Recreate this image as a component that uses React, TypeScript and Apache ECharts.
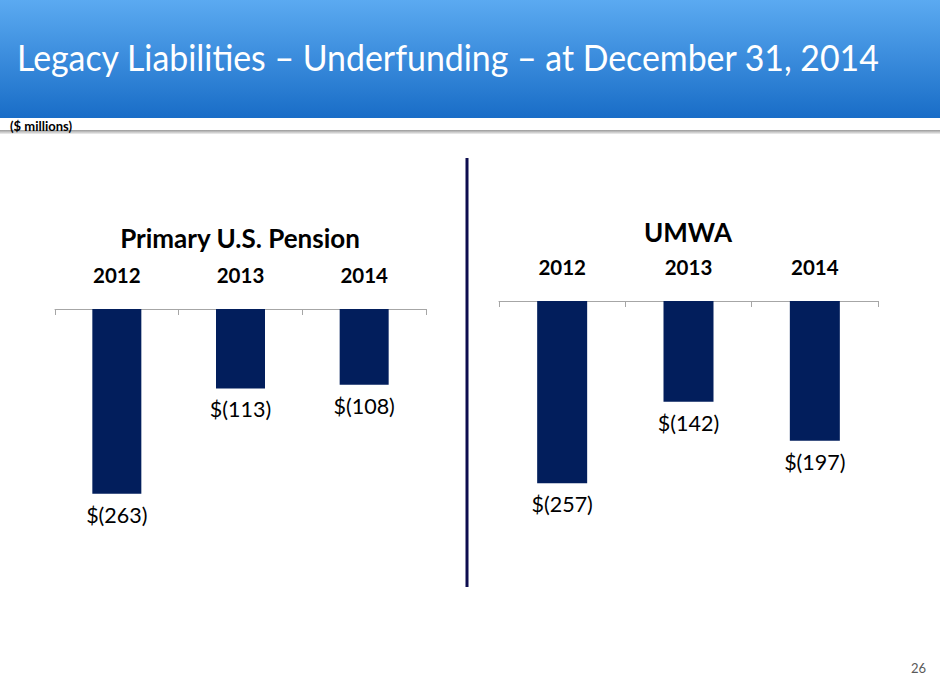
import React, { useEffect, useRef } from "react";
import * as echarts from "echarts";

const years = ["2012", "2013", "2014"];
const pensionValues = [-263, -113, -108];
const umwaValues = [-257, -142, -197];
const titleText = "Legacy Liabilities – Underfunding – at December 31, 2014";
const unitText = "($ millions)";
const pensionTitle = "Primary U.S. Pension";
const umwaTitle = "UMWA";
const pageNumber = "26";

const FONT = "Lato";
const BAR = "#021E5C";
const AXIS = "#A6A6A6";

const fmt = (p: any) => `$(${Math.abs(p.value)})`;

export default function App() {
  const ref = useRef<HTMLDivElement>(null);
  useEffect(() => {
    if (!ref.current) return;
    const chart = echarts.init(ref.current, undefined, { renderer: "svg" });
    const xAxisBase = (gridIndex: number) => ({
      type: "category" as const,
      gridIndex,
      data: years,
      position: "top" as const,
      axisLine: { show: true, lineStyle: { color: AXIS, width: 1 } },
      axisTick: { show: true, inside: true, length: 6, lineStyle: { color: AXIS } },
      axisLabel: {
        margin: 24,
        color: "#000",
        fontFamily: FONT,
        fontWeight: "bold",
        fontSize: 20.5,
      },
    });
    const yAxisBase = (gridIndex: number) => ({
      type: "value" as const,
      gridIndex,
      min: -400,
      max: 0,
      show: false,
      splitLine: { show: false },
    });
    const labelBase = {
      show: true,
      position: "bottom" as const,
      distance: 10,
      formatter: fmt,
      color: "#000",
      fontFamily: FONT,
      fontSize: 21.5,
    };
    chart.setOption({
      animation: false,
      textStyle: { fontFamily: FONT },
      grid: [
        { left: 55, width: 371, top: 309, height: 281 },
        { left: 499, width: 379, top: 301, height: 283.6 },
      ],
      xAxis: [xAxisBase(0), xAxisBase(1)],
      yAxis: [yAxisBase(0), yAxisBase(1)],
      series: [
        {
          type: "bar",
          xAxisIndex: 0,
          yAxisIndex: 0,
          data: pensionValues,
          barWidth: 49,
          itemStyle: { color: BAR },
          label: labelBase,
        },
        {
          type: "bar",
          xAxisIndex: 1,
          yAxisIndex: 1,
          data: umwaValues,
          barWidth: 50,
          itemStyle: { color: BAR },
          label: labelBase,
        },
      ],
      graphic: [
        {
          type: "rect",
          left: 0,
          top: 0,
          shape: { width: 940, height: 118 },
          style: {
            fill: new echarts.graphic.LinearGradient(0, 0, 0, 1, [
              { offset: 0, color: "#5BAAF1" },
              { offset: 1, color: "#196DC7" },
            ]),
          },
          silent: true,
        },
        {
          type: "rect",
          left: 0,
          top: 130,
          shape: { width: 940, height: 4 },
          style: {
            fill: new echarts.graphic.LinearGradient(0, 0, 0, 1, [
              { offset: 0, color: "#9A9A9A" },
              { offset: 1, color: "#F0F0F0" },
            ]),
          },
          silent: true,
        },
        {
          type: "text",
          x: 17,
          y: 57,
          scaleX: 0.915,
          style: {
            text: titleText,
            fill: "#FFFFFF",
            fontFamily: FONT,
            fontSize: 37,
            textVerticalAlign: "middle",
          },
        },
        {
          type: "text",
          x: 10,
          y: 126,
          style: {
            text: unitText,
            fill: "#000",
            fontFamily: FONT,
            fontWeight: "bold",
            fontSize: 13,
            textVerticalAlign: "middle",
          },
        },
        {
          type: "text",
          x: 240,
          y: 238,
          style: {
            text: pensionTitle,
            fill: "#000",
            fontFamily: FONT,
            fontWeight: "bold",
            fontSize: 26,
            textAlign: "center",
            textVerticalAlign: "middle",
          },
        },
        {
          type: "text",
          x: 688,
          y: 232,
          style: {
            text: umwaTitle,
            fill: "#000",
            fontFamily: FONT,
            fontWeight: "bold",
            fontSize: 26,
            textAlign: "center",
            textVerticalAlign: "middle",
          },
        },
        {
          type: "rect",
          left: 465.5,
          top: 158,
          shape: { width: 3, height: 429 },
          style: { fill: "#0D0D4F" },
          silent: true,
        },
        {
          type: "text",
          x: 926,
          y: 668,
          style: {
            text: pageNumber,
            fill: "#595959",
            fontFamily: FONT,
            fontSize: 13,
            textAlign: "right",
            textVerticalAlign: "middle",
          },
        },
      ],
    });
    return () => chart.dispose();
  }, []);
  return (
    <div
      ref={ref}
      style={{ position: "fixed", left: 0, top: 0, width: 940, height: 686, background: "#fff" }}
    />
  );
}
